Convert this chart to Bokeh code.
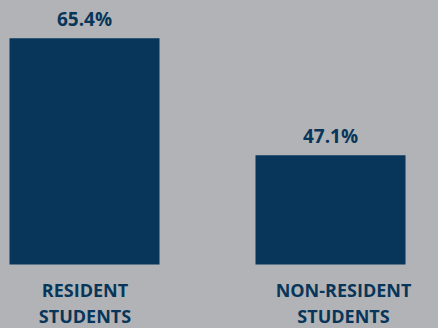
from bokeh.plotting import figure
from bokeh.models import Range1d, ColumnDataSource, GlobalInlineStyleSheet
from bokeh.core.properties import value
from bokeh.embed import file_html
from bokeh.resources import INLINE

# data
categories = ["RESIDENT STUDENTS", "NON-RESIDENT STUDENTS"]
label_line1 = ["RESIDENT", "NON-RESIDENT"]
label_line2 = ["STUDENTS", "STUDENTS"]
rates = [65.4, 47.1]
rate_labels = ["65.4%", "47.1%"]

BG = "#b2b3b6"
NAVY = "#07365a"
FONT = value("Open Sans")

xs = list(range(len(categories)))
src = ColumnDataSource(dict(x=xs, top=rates, lab=rate_labels, l1=label_line1, l2=label_line2))

p = figure(width=438, height=328, output_backend="svg", toolbar_location=None,
           x_range=Range1d(-0.3415, 1.439), y_range=Range1d(20, 71.3),
           x_axis_location=None, y_axis_location=None, min_border=0)
p.grid.visible = False
p.outline_line_color = None
p.background_fill_color = BG
p.border_fill_color = BG
p.stylesheets = [GlobalInlineStyleSheet(css="html,body{margin:0;padding:0;background:#b2b3b6;overflow:hidden}")]

p.vbar(x="x", top="top", bottom=30, width=0.6098, source=src, fill_color=NAVY, line_color=None)

p.text(x="x", y="top", text="lab", source=src, text_align="center", text_baseline="middle",
       y_offset=-19, text_font=FONT, text_font_style="bold", text_font_size="19px", text_color=NAVY)

offs = [0.5, 13]
for i in xs:
    s = ColumnDataSource(dict(x=[i], y=[30], l1=[label_line1[i]], l2=[label_line2[i]]))
    p.text(x="x", y="y", text="l1", source=s, text_align="center", text_baseline="middle",
           x_offset=offs[i], y_offset=25, text_font=FONT, text_font_style="bold",
           text_font_size="18px", text_color=NAVY)
    p.text(x="x", y="y", text="l2", source=s, text_align="center", text_baseline="middle",
           x_offset=offs[i], y_offset=51, text_font=FONT, text_font_style="bold",
           text_font_size="18px", text_color=NAVY)

open("out.html", "w").write(file_html(p, INLINE))
